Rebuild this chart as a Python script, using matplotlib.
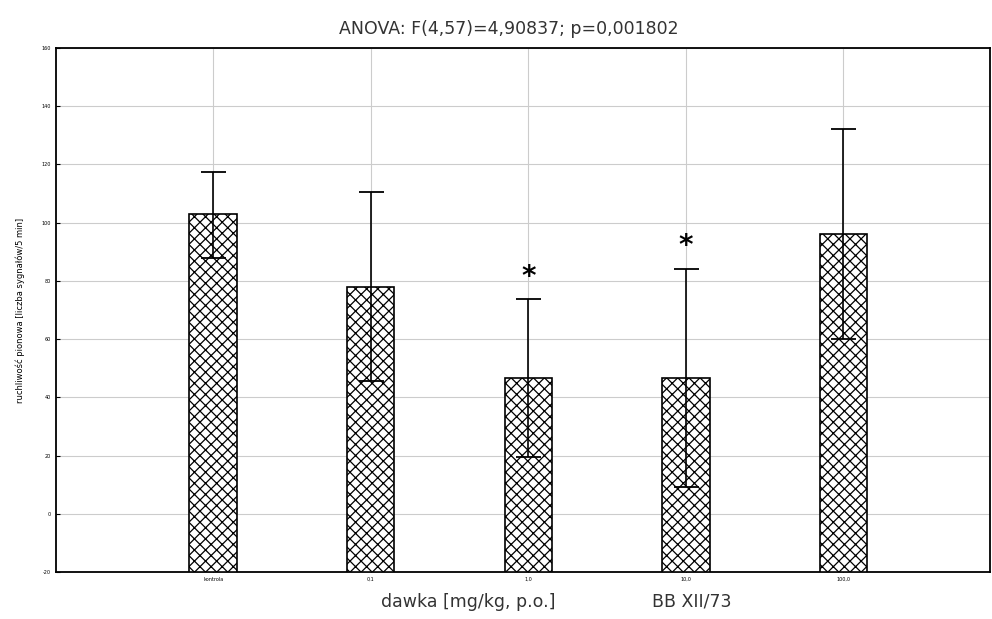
import matplotlib
matplotlib.use("Agg")
import matplotlib.pyplot as plt

# data
groups = ["kontrola", "0,1", "1,0", "10,0", "100,0"]
means = [103, 78, 46.6, 46.6, 96]
err_lo = [15, 32.5, 27, 37.5, 36]
err_hi = [14.5, 32.5, 27, 37.5, 36]
signif = [False, False, True, True, False]

yticks = [-20, 0, 20, 40, 60, 80, 100, 120, 140, 160]

plt.rcParams['font.family'] = ['DejaVu Sans']
plt.rcParams['hatch.linewidth'] = 0.9
plt.rcParams['hatch.color'] = '#333333'

fig = plt.figure(figsize=(9.92, 6.19), dpi=100)
ax = fig.add_axes([0.056, 0.076, 0.942, 0.8465])

x = list(range(len(groups)))
ax.bar(x, [m + 20 for m in means], bottom=-20, width=0.30, color="white",
       edgecolor="black", hatch="xxx", linewidth=1.2, zorder=3)
ax.errorbar(x, means, yerr=[err_lo, err_hi], fmt="none", ecolor="black",
            elinewidth=1.2, capsize=9, capthick=1.3, zorder=4)

for i, s in enumerate(signif):
    if s:
        ax.text(x[i], means[i] + err_hi[i] + 3, "*", ha="center", va="bottom",
                fontsize=20, fontweight="bold", zorder=5)

ax.set_xlim(-1, 4.93)
ax.set_ylim(-20, 160)
ax.set_yticks(yticks)
ax.set_xticks(x)
ax.set_xticklabels(groups, fontsize=3.5)
ax.set_yticklabels([str(t) for t in yticks], fontsize=3.5)
ax.tick_params(direction="in", length=3, width=0.8)
ax.grid(True, color="#cccccc", linewidth=0.8, zorder=0)
ax.set_axisbelow(True)
for sp in ax.spines.values():
    sp.set_linewidth(1.3)

ax.set_ylabel("ruchliwość pionowa [liczba sygnałów/5 min]", fontsize=6, labelpad=12)
fig.text(0.513, 0.945, "ANOVA: F(4,57)=4,90837; p=0,001802", ha="center",
         fontsize=12.5, color="#333333")
fig.text(0.472, 0.02, "dawka [mg/kg, p.o.]", ha="center", fontsize=12.5, color="#333333")
fig.text(0.697, 0.02, "BB XII/73", ha="center", fontsize=12.5, color="#333333")

fig.savefig("out.png", dpi=100)
